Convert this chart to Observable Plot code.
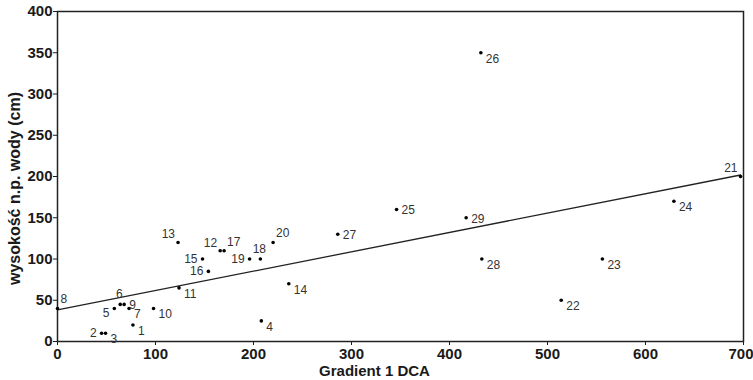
<!DOCTYPE html>
<html>
<head>
<meta charset="utf-8">
<script src="https://cdn.jsdelivr.net/npm/d3@7"></script>
<script src="https://cdn.jsdelivr.net/npm/@observablehq/plot@0.6"></script>
<style>
  html, body { margin: 0; padding: 0; background: #fff; }
  #chart svg text { font-family: "Liberation Sans", Arial, sans-serif; }
</style>
</head>
<body>
<div id="chart"></div>
<script>
// Site numbers
const ids = [1,2,3,4,5,6,7,8,9,10,11,12,13,14,15,16,17,18,19,20,21,22,23,24,25,26,27,28,29];
// Gradient 1 DCA score
const gradient = [77,45,49,208,58,64,73,0,68,98,124,166,123,236,148,154,170,207,196,220,697,514,556,629,346,432,286,433,417];
// Water level height (cm)
const waterHeight = [20,10,10,25,40,45,40,40,45,40,65,110,120,70,100,85,110,100,100,120,200,50,100,170,160,350,130,100,150];
// Which side of the dot each number label sits on
const labelSide = ["SE","W","SE","SE","SW","N","SE","NE","E","SE","SE","NW","NW","SE","W","W","NE","N","W","NE","NW","SE","SE","SE","E","SE","E","SE","E"];

const xTicks = [0,100,200,300,400,500,600,700];
const yTicks = [0,50,100,150,200,250,300,350,400];
const xTitle = "Gradient 1 DCA";
const yTitle = "wysokość n.p. wody (cm)";

const data = ids.map((id, i) => ({id, x: gradient[i], y: waterHeight[i], side: labelSide[i]}));

const sides = {
  E:  {dx: 5,  dy: 1,  textAnchor: "start"},
  SE: {dx: 5,  dy: 6,  textAnchor: "start"},
  W:  {dx: -5, dy: 0,  textAnchor: "end"},
  SW: {dx: -5, dy: 5,  textAnchor: "end"},
  NW: {dx: -3, dy: -8, textAnchor: "end"},
  NE: {dx: 3,  dy: -9, textAnchor: "start"},
  N:  {dx: -1, dy: -10, textAnchor: "middle"}
};

const labelMarks = Object.entries(sides).map(([k, o]) =>
  Plot.text(data.filter(d => d.side === k), {
    x: "x", y: "y", text: d => String(d.id),
    dx: o.dx, dy: o.dy, textAnchor: o.textAnchor,
    fontSize: 12, fill: "#333"
  })
);

const lastTick = xTicks[xTicks.length - 1];

const chart = Plot.plot({
  width: 753,
  height: 380,
  marginLeft: 57,
  marginRight: 10,
  marginTop: 11,
  marginBottom: 39,
  style: {fontFamily: "Liberation Sans, Arial, sans-serif", color: "#1a1a1a", background: "#fff"},
  x: {domain: [0, 700], axis: null},
  y: {domain: [0, 400], axis: null},
  marks: [
    Plot.axisY({ticks: yTicks, tickSize: 4, tickPadding: 1, fontSize: 15, fontWeight: "bold", label: null}),
    Plot.axisX({ticks: xTicks, tickSize: 4, tickPadding: 3, text: null, label: null}),
    Plot.axisX({ticks: xTicks.filter(t => t !== lastTick), tickSize: 0, tickPadding: 7, fontSize: 15, fontWeight: "bold", label: null}),
    Plot.axisX({ticks: [lastTick], tickSize: 0, tickPadding: 7, fontSize: 15, fontWeight: "bold", label: null, textAnchor: "end", dx: 10}),
    Plot.text([yTitle], {frameAnchor: "left", textAnchor: "middle", lineAnchor: "middle", rotate: -90, dx: -43, dy: 12, fontSize: 16, fontWeight: "bold", fill: "#1a1a1a"}),
    Plot.text([xTitle], {frameAnchor: "bottom", textAnchor: "middle", dx: -26, dy: 30, fontSize: 15, fontWeight: "bold", fill: "#1a1a1a", lineAnchor: "middle"}),
    Plot.frame({stroke: "#222", strokeWidth: 1.5}),
    Plot.linearRegressionY(data, {x: "x", y: "y", stroke: "#222", strokeWidth: 1.3, ci: 0}),
    Plot.dot(data, {x: "x", y: "y", r: 1.8, fill: "#000", stroke: null}),
    ...labelMarks
  ]
});
document.getElementById("chart").appendChild(chart);
</script>
</body>
</html>
